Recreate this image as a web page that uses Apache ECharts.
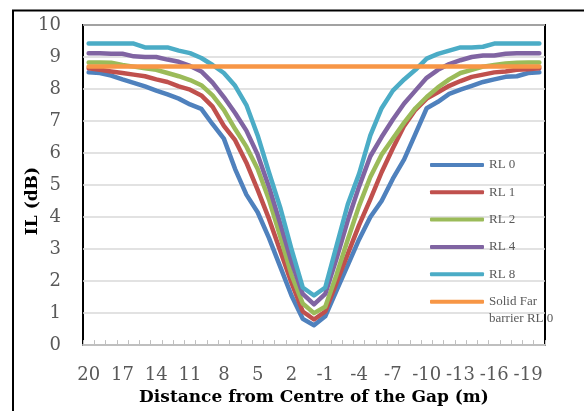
<!DOCTYPE html>
<html>
<head>
<meta charset="utf-8">
<script src="https://cdn.jsdelivr.net/npm/echarts@6/dist/echarts.min.js"></script>
<style>
html,body{margin:0;padding:0;background:#fff;}
#c{width:584px;height:411px;}
</style>
</head>
<body>
<div id="c"></div>
<script>
const categories = [20,19,18,17,16,15,14,13,12,11,10,9,8,7,6,5,4,3,2,1,0,-1,-2,-3,-4,-5,-6,-7,-8,-9,-10,-11,-12,-13,-14,-15,-16,-17,-18,-19,-20];
const rl0 = [8.52,8.5,8.42,8.3,8.19,8.08,7.95,7.83,7.7,7.52,7.38,6.9,6.45,5.5,4.7,4.15,3.35,2.45,1.55,0.82,0.62,0.9,1.7,2.5,3.3,4.0,4.5,5.2,5.8,6.6,7.4,7.6,7.85,7.98,8.1,8.22,8.3,8.38,8.4,8.5,8.52];
const rl1 = [8.65,8.6,8.55,8.5,8.45,8.4,8.3,8.22,8.08,7.98,7.8,7.45,6.85,6.4,5.7,4.85,3.95,2.95,1.95,1.05,0.8,1.05,1.95,2.85,3.75,4.55,5.4,6.15,6.85,7.35,7.7,7.9,8.1,8.25,8.38,8.45,8.52,8.55,8.6,8.62,8.65];
const rl2 = [8.83,8.83,8.82,8.75,8.7,8.65,8.6,8.5,8.4,8.28,8.12,7.8,7.35,6.75,6.2,5.5,4.55,3.4,2.2,1.3,1.0,1.2,2.2,3.3,4.35,5.25,5.95,6.45,6.95,7.4,7.75,8.05,8.3,8.5,8.6,8.7,8.75,8.8,8.82,8.83,8.83];
const rl4 = [9.12,9.12,9.1,9.1,9.02,9.0,9.0,8.92,8.85,8.72,8.55,8.2,7.75,7.25,6.7,5.95,4.95,3.8,2.6,1.6,1.27,1.6,2.7,3.9,4.95,5.9,6.5,7.05,7.55,7.95,8.35,8.6,8.78,8.9,9.0,9.05,9.05,9.1,9.12,9.12,9.12];
const rl8 = [9.42,9.42,9.42,9.42,9.42,9.3,9.3,9.3,9.2,9.12,8.97,8.75,8.5,8.1,7.5,6.55,5.4,4.3,3.0,1.8,1.55,1.8,3.1,4.4,5.35,6.55,7.4,7.95,8.3,8.6,8.95,9.1,9.2,9.3,9.3,9.32,9.42,9.42,9.42,9.42,9.42];
const solidFar = [8.7,8.7,8.7,8.7,8.7,8.7,8.7,8.7,8.7,8.7,8.7,8.7,8.7,8.7,8.7,8.7,8.7,8.7,8.7,8.7,8.7,8.7,8.7,8.7,8.7,8.7,8.7,8.7,8.7,8.7,8.7,8.7,8.7,8.7,8.7,8.7,8.7,8.7,8.7,8.7,8.7];
const seriesNames = ['RL 0','RL 1','RL 2','RL 4','RL 8','Solid Far barrier RL 0'];
const seriesData = [rl0, rl1, rl2, rl4, rl8, solidFar];
const colors = ['#4F81BD','#C0504D','#9BBB59','#8064A2','#4BACC6','#F79646'];

const chart = echarts.init(document.getElementById('c'), null, {renderer:'canvas'});
const serif = 'DejaVu Serif';
const legendText = {fontFamily: 'Liberation Serif', fontSize: 13, color: '#595959', lineHeight: 14};
chart.setOption({
  animation: false,
  backgroundColor: '#fff',
  graphic: [{
    type: 'rect', silent: true, z: -10,
    shape: {x: 13, y: 10.5, width: 700, height: 600},
    style: {fill: 'none', stroke: '#000', lineWidth: 2}
  }],
  grid: {left: 83, top: 25, right: 39, bottom: 64, show: true, borderColor: '#000', borderWidth: 2, backgroundColor: 'transparent'},
  legend: [{
    orient: 'vertical', left: 425, top: 153,
    itemWidth: 54, itemHeight: 4, itemGap: 13.3,
    icon: 'roundRect',
    data: seriesNames.slice(0, 5),
    textStyle: legendText
  }, {
    orient: 'vertical', left: 425, top: 272,
    itemWidth: 54, itemHeight: 4,
    icon: 'roundRect',
    data: seriesNames.slice(5),
    formatter: function (n) { return '\nSolid Far\nbarrier RL 0'; },
    textStyle: Object.assign({}, legendText, {lineHeight: 16.5})
  }],
  xAxis: {
    type: 'category', data: categories, boundaryGap: true,
    name: 'Distance from Centre of the Gap (m)', nameLocation: 'middle', nameGap: 41,
    nameTextStyle: {fontFamily: serif, fontWeight: 'bold', fontSize: 17, color: '#000'},
    axisLine: {lineStyle: {color: '#BFBFBF', width: 2}},
    axisTick: {show: true, inside: true, length: 5, interval: 0, lineStyle: {color: '#BFBFBF', width: 1}},
    axisLabel: {interval: 2, margin: 21, fontFamily: serif, fontSize: 18, color: '#595959'},
    splitLine: {show: false}
  },
  yAxis: {
    type: 'value', min: 0, max: 10, interval: 1,
    name: 'IL (dB)', nameLocation: 'middle', nameGap: 42, nameRotate: 90, nameMoveOverlap: false,
    nameTextStyle: {fontFamily: serif, fontWeight: 'bold', fontSize: 17, color: '#000', padding: [0, 32, 0, 0]},
    axisLine: {show: false},
    axisTick: {show: false},
    axisLabel: {margin: 22, fontFamily: serif, fontSize: 18, color: '#595959'},
    splitLine: {lineStyle: {color: '#D9D9D9', width: 1.5}}
  },
  series: seriesData.map(function (d, i) {
    return {
      name: seriesNames[i], type: 'line', data: d, symbol: 'none', smooth: false,
      color: colors[i],
      lineStyle: {width: 4.5, color: colors[i], cap: 'round', join: 'round'},
      emphasis: {disabled: true}
    };
  })
});
</script>
</body>
</html>
